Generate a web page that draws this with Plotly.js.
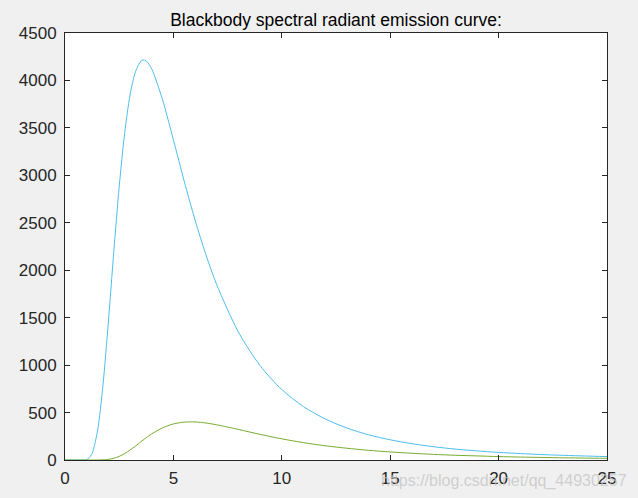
<!DOCTYPE html>
<html>
<head>
<meta charset="utf-8">
<script src="https://cdn.plot.ly/plotly-3.0.1.min.js"></script>
<style>html,body{margin:0;padding:0;background:#f0f0f0;}#chart{width:638px;height:498px;}</style>
</head>
<body>
<div id="chart"></div>
<script>
// Wavelength samples (x) and read-off radiant emission values
const wavelength = [0, 0.5, 0.75, 0.9, 1, 1.1, 1.25, 1.5, 1.75, 2, 2.25, 2.5, 2.75, 3, 3.25, 3.5, 3.6, 3.75, 4, 4.5, 5, 5.5, 6, 6.5, 7, 8, 9, 10, 11, 12, 13, 14, 15, 16, 17, 18, 19, 20, 21, 22, 23, 24, 25];
const emissionHot = [0, 0, 0.1, 1.3, 5.8, 18.4, 69, 306, 785, 1454, 2193, 2880, 3441, 3846, 4092, 4203, 4215, 4205, 4121, 3796, 3374, 2937, 2528, 2163, 1847, 1348, 994, 742, 563, 433, 337, 266, 213, 172, 140, 115, 96, 80, 68, 57, 49, 42, 36];
const emissionCool = [0, 0, 0, 0, 0, 0, 0, 0.2, 1.7, 6.6, 18.1, 38.4, 67.9, 105, 146, 192, 210, 236, 275, 339, 380, 399, 401, 390, 371, 322, 270, 223, 183, 150, 124, 102, 85, 71, 59, 50, 43, 36, 31, 27, 23, 20, 18];
const titleText = 'Blackbody spectral radiant emission curve:';
const watermark = 'https://blog.csdn.net/qq_44930257';

const axisCommon = {
  showline: true, linecolor: '#262626', linewidth: 1, mirror: 'ticks',
  ticks: 'inside', ticklen: 5, tickcolor: '#262626', tickwidth: 1,
  showgrid: false, zeroline: false,
  tickfont: {family: 'Liberation Sans, Arial, sans-serif', size: 17, color: '#262626'}
};

const traces = [
  {x: wavelength, y: emissionHot, type: 'scatter', mode: 'lines',
   line: {color: '#4DBEEE', width: 1, shape: 'spline', smoothing: 0.8}},
  {x: wavelength, y: emissionCool, type: 'scatter', mode: 'lines',
   line: {color: '#77AC30', width: 1, shape: 'spline', smoothing: 0.8}}
];

const layout = {
  width: 638, height: 498,
  paper_bgcolor: '#f0f0f0', plot_bgcolor: '#ffffff',
  margin: {l: 65, r: 31, t: 33, b: 38},
  showlegend: false,
  title: {text: titleText, x: 0.5, xref: 'paper', y: 1 - 20/498, yref: 'container', yanchor: 'middle',
          font: {family: 'Liberation Sans, Arial, sans-serif', size: 17.5, color: '#000000'}},
  xaxis: Object.assign({}, axisCommon, {range: [0, 25], dtick: 5, tick0: 0, ticklabelstandoff: 3}),
  yaxis: Object.assign({}, axisCommon, {range: [0, 4500], dtick: 500, tick0: 0, ticklabelstandoff: 4}),
  annotations: [{
    text: watermark, xref: 'paper', yref: 'paper', x: 1.04, y: -0.05,
    xanchor: 'right', yanchor: 'middle', showarrow: false,
    font: {family: 'Liberation Sans, Arial, sans-serif', size: 16, color: 'rgba(195,195,195,0.75)'}
  }]
};

Plotly.newPlot('chart', traces, layout, {displayModeBar: false, staticPlot: true});
</script>
</body>
</html>
